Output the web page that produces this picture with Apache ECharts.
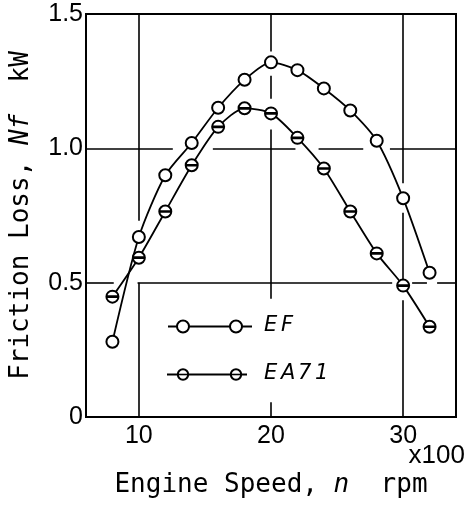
<!DOCTYPE html>
<html>
<head>
<meta charset="utf-8">
<script src="https://cdn.jsdelivr.net/npm/echarts@6/dist/echarts.min.js"></script>
<style>
  html, body { margin: 0; padding: 0; background: #fff; }
  #chart { width: 471px; height: 507px; }
</style>
</head>
<body>
<div id="chart"></div>
<script>
// Engine speed (x100 rpm)
var speeds = [8, 10, 12, 14, 16, 18, 20, 22, 24, 26, 28, 30, 32];
// Friction loss Nf (kW)
var efLoss   = [0.28, 0.67, 0.9, 1.02, 1.151, 1.255, 1.32, 1.291, 1.223, 1.141, 1.028, 0.814, 0.537];
var ea71Loss = [0.448, 0.593, 0.765, 0.937, 1.08, 1.149, 1.13, 1.039, 0.925, 0.765, 0.609, 0.489, 0.336];
// Labelled x ticks
var xTickLabels = [10, 20, 30];
// Grid lines, broken where the curves and the key pass over them
// vertical: [x, yFrom, yTo]
var gridV = [
  [10, 1.5, 0.73], [10, 0.5, 0],
  [20, 1.5, 1.36], [20, 1.27, 1.185], [20, 1.07, 0.44], [20, 0.055, 0],
  [30, 1.5, 0.87], [30, 0.76, 0.51], [30, 0.435, 0]
];
// horizontal: [y, xFrom, xTo]
var gridH = [
  [1.0, 6, 12.57], [1.0, 15.6, 21.85], [1.0, 23.6, 26.98], [1.0, 29.0, 34],
  [0.5, 6, 8.1], [0.5, 9.9, 29.17], [0.5, 30.68, 31.8], [0.5, 32.57, 34]
];

function pairs(xs, ys) { return xs.map(function (x, i) { return [x, ys[i]]; }); }

// open circle with a horizontal bar through the centre
var barredCircle = 'path://M1,12 A11,11 0 1,1 23,12 A11,11 0 1,1 1,12 Z M1.5,11.4 L22.5,11.4 L22.5,12.6 L1.5,12.6 Z';

var chart = echarts.init(document.getElementById('chart'), null, { renderer: 'canvas' });

var tickFont = 'Liberation Sans';
var titleFont = 'DejaVu Sans Mono';

var gridMarks = gridV.map(function (s) { return [{ coord: [s[0], s[1]] }, { coord: [s[0], s[2]] }]; })
  .concat(gridH.map(function (s) { return [{ coord: [s[1], s[0]] }, { coord: [s[2], s[0]] }]; }));

var keyText = { width: 17, fontFamily: 'DejaVu Sans', fontSize: 21, fontStyle: 'italic', fill: '#000' };

chart.setOption({
  animation: false,
  backgroundColor: '#fff',
  grid: {
    left: 85, right: 15, top: 14, bottom: 90,
    show: true, borderColor: '#000', borderWidth: 2, backgroundColor: 'transparent'
  },
  xAxis: {
    type: 'value', min: 6, max: 34, interval: 2,
    axisLine: { show: false }, axisTick: { show: false }, splitLine: { show: false },
    axisLabel: {
      color: '#000', fontFamily: tickFont, fontSize: 25, margin: 7,
      formatter: function (v) { return xTickLabels.indexOf(v) >= 0 ? String(v) : ''; }
    },
    name: 'Engine Speed, {i|n}  rpm',
    nameLocation: 'middle', nameGap: 55,
    nameTextStyle: {
      color: '#000', fontFamily: titleFont, fontSize: 26,
      rich: { i: { fontFamily: titleFont, fontSize: 26, fontStyle: 'italic', color: '#000' } }
    }
  },
  yAxis: {
    type: 'value', min: 0, max: 1.5, interval: 0.5,
    axisLine: { show: false }, axisTick: { show: false }, splitLine: { show: false },
    axisLabel: {
      color: '#000', fontFamily: tickFont, fontSize: 25, margin: 3,
      formatter: function (v) { return v === 0 ? '0' : v.toFixed(1); }
    },
    name: 'Friction Loss, {i|Nf}  kW',
    nameLocation: 'middle', nameGap: 52, nameRotate: 90,
    nameTextStyle: {
      color: '#000', fontFamily: titleFont, fontSize: 26,
      rich: { i: { fontFamily: titleFont, fontSize: 26, fontStyle: 'italic', color: '#000' } }
    }
  },
  graphic: [
    // x100 multiplier under the axis end
    { type: 'text', right: 6, top: 443,
      style: { text: 'x100', fill: '#000', font: '26px "Liberation Sans"' } },
    // key: EF
    { type: 'line', shape: { x1: 168, y1: 326.5, x2: 252, y2: 326.5 }, style: { stroke: '#000', lineWidth: 1.8 }, z: 10 },
    { type: 'circle', shape: { cx: 183, cy: 326.5, r: 6 }, style: { fill: '#fff', stroke: '#000', lineWidth: 2 }, z: 11 },
    { type: 'circle', shape: { cx: 236, cy: 326.5, r: 6 }, style: { fill: '#fff', stroke: '#000', lineWidth: 2 }, z: 11 },
    { type: 'text', left: 264, top: 315, z: 11,
      style: { text: '{c|E}{c|F}', rich: { c: keyText } } },
    // key: EA71
    { type: 'line', shape: { x1: 167, y1: 374.5, x2: 247, y2: 374.5 }, style: { stroke: '#000', lineWidth: 1.8 }, z: 10 },
    { type: 'circle', shape: { cx: 183, cy: 374.5, r: 5.2 }, style: { fill: '#fff', stroke: '#000', lineWidth: 2 }, z: 11 },
    { type: 'circle', shape: { cx: 236, cy: 374.5, r: 5.2 }, style: { fill: '#fff', stroke: '#000', lineWidth: 2 }, z: 11 },
    { type: 'rect', shape: { x: 178, y: 373.7, width: 10, height: 1.6 }, style: { fill: '#000' }, z: 12 },
    { type: 'rect', shape: { x: 231, y: 373.7, width: 10, height: 1.6 }, style: { fill: '#000' }, z: 12 },
    { type: 'text', left: 264, top: 363, z: 11,
      style: { text: '{c|E}{c|A}{c|7}{c|1}', rich: { c: keyText } } }
  ],
  series: [
    {
      name: 'grid', type: 'line', data: [], silent: true, z: 1,
      markLine: {
        silent: true, symbol: ['none', 'none'], animation: false,
        label: { show: false },
        lineStyle: { color: '#000', width: 1.6, type: 'solid' },
        emphasis: { disabled: true },
        data: gridMarks
      }
    },
    {
      name: 'EF', type: 'line', data: pairs(speeds, efLoss), smooth: 0.25, z: 3,
      symbol: 'circle', symbolSize: 12,
      lineStyle: { color: '#000', width: 1.8 },
      itemStyle: { color: '#fff', borderColor: '#000', borderWidth: 2 }
    },
    {
      name: 'EA71', type: 'line', data: pairs(speeds, ea71Loss), smooth: 0.25, z: 3,
      symbol: barredCircle, symbolSize: 12, symbolKeepAspect: true,
      lineStyle: { color: '#000', width: 1.8 },
      itemStyle: { color: '#fff', borderColor: '#000', borderWidth: 2 }
    }
  ]
});
</script>
</body>
</html>
